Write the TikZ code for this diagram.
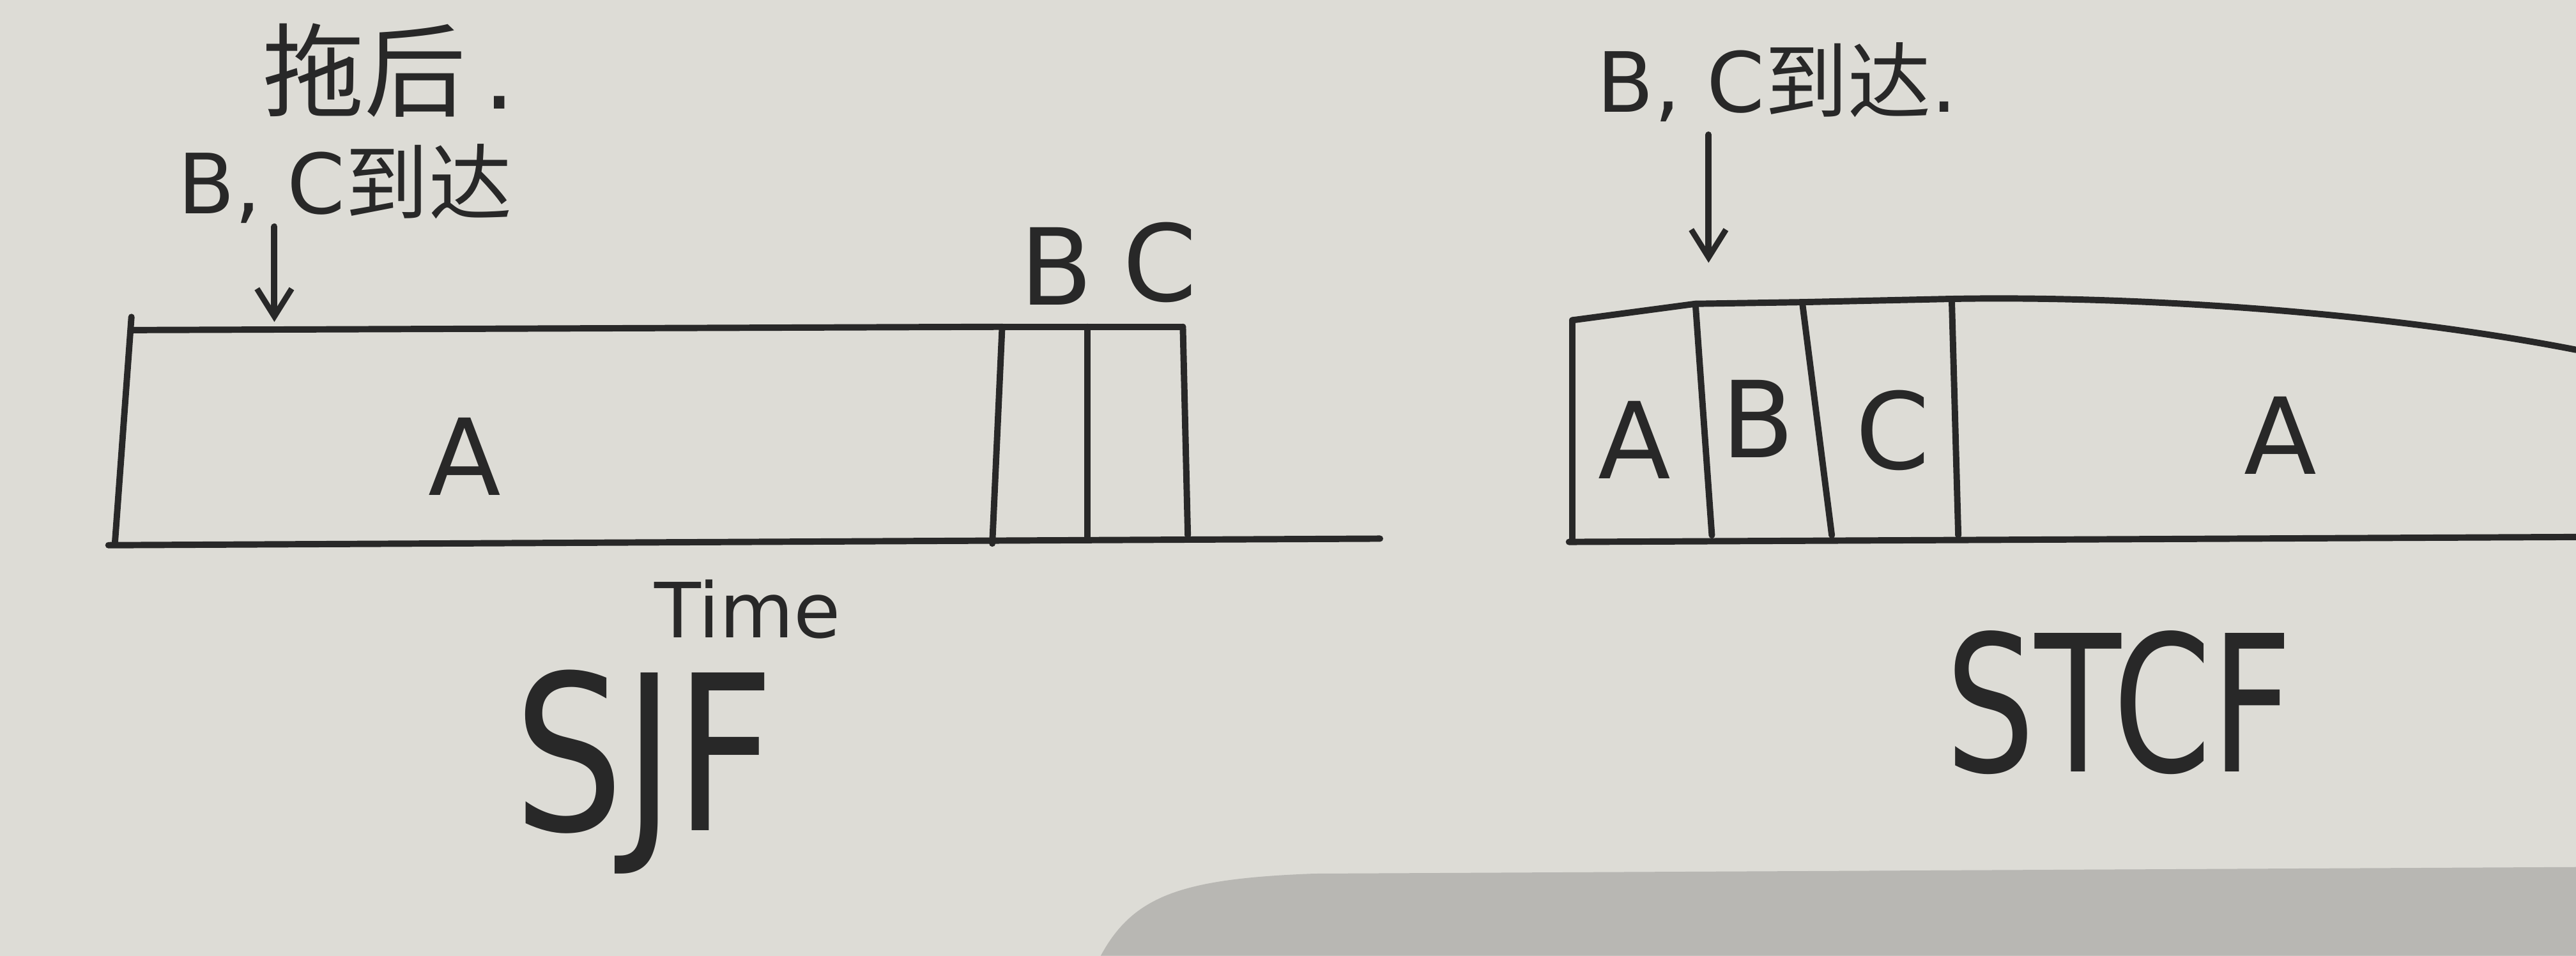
\documentclass[tikz,border=0pt]{standalone}
\usepackage{fontspec}
\usepackage{graphicx}
\setmainfont{DejaVu Sans}
\newfontfamily\cjk{Noto Sans CJK SC}
\usetikzlibrary{arrows.meta}
\definecolor{paper}{RGB}{221,220,214}
\definecolor{shadow}{RGB}{184,183,179}
\definecolor{ink}{RGB}{40,40,40}
\tikzset{
  pen/.style={draw=ink, line width=5.5pt, line cap=round, line join=round},
  arrive/.style={pen, -{Straight Barb[length=24pt,width=30pt,line width=5pt]}},
  lbl/.style={text=ink, inner sep=0pt, font=\fontsize{92}{92}\selectfont},
  note/.style={text=ink, inner sep=0pt, font=\fontsize{72}{72}\selectfont},
  title/.style={text=ink, inner sep=0pt, font=\fontsize{150}{150}\selectfont}
}
\begin{document}
\begin{tikzpicture}[x=0.05cm, y=-0.05cm]
% background
\fill[paper] (0,0) rectangle (1568,582);
\fill[shadow] (670,582) .. controls (690,545) and (720,535) .. (800,532) -- (1568,528) -- (1568,582) -- cycle;
\useasboundingbox (0,0) rectangle (1568,582);

% ---------------- SJF ----------------
\coordinate (LTl) at (80,201);
\coordinate (LTr) at (610,199);
\coordinate (LBl) at (66,332);
\coordinate (LBr) at (840,328);
\coordinate (LB1t) at (610,199);
\coordinate (LB1b) at (604,331);
\coordinate (LB2t) at (662,199);
\coordinate (LB2b) at (662,329);
\coordinate (LC2t) at (720,199);
\coordinate (LC2b) at (723,326);
\coordinate (LLt) at (80,193);
\coordinate (LLb) at (70,330);

\draw[pen] (LTl) -- (LTr);
\draw[pen] (LBl) -- (LBr);
\draw[pen] (LLt) -- (LLb);
\draw[pen] (LB1t) -- (LB1b);
\draw[pen] (LB1t) -- (LB2t) -- (LC2t);
\draw[pen] (LB2t) -- (LB2b);
\draw[pen] (LC2t) -- (LC2b);

\node[lbl] (LA) at (283,278) {A};
\node[lbl] (LB) at (643,162) {B};
\node[lbl] (LC) at (706,160) {C};

\coordinate (LArT) at (167,138);
\coordinate (LArB) at (167,196);
\draw[arrive] (LArT) -- (LArB);
\node[note, anchor=west] (Lnote) at (108,112) {B, C{\cjk 到达}};
\node[note, anchor=west, font=\fontsize{88}{88}\selectfont] (Lpre) at (160,43) {{\cjk 拖后}\,.};

\node[lbl, font=\fontsize{66}{66}\selectfont] (time) at (455,371) {Time};
\node[title] (sjf) at (392,470) {\scalebox{1}[1.25]{SJF}};

% ---------------- STCF ----------------
\coordinate (RT0) at (957,195);
\coordinate (RT1) at (1032,185);
\coordinate (RT2) at (1097,184);
\coordinate (RT3) at (1188,182);
\coordinate (RT4) at (1568,213);
\coordinate (RB0) at (955,330);
\coordinate (RB4) at (1568,327);
\coordinate (RD0) at (957,328);
\coordinate (RD1) at (1042,326);
\coordinate (RD2) at (1115,326);
\coordinate (RD3) at (1192,326);

\draw[pen] (RT0) -- (RT1) -- (RT2) -- (RT3) .. controls (1300,180) and (1450,190) .. (RT4);
\draw[pen] (RB0) -- (RB4);
\draw[pen] (RT0) -- (RD0);
\draw[pen] (RT1) -- (RD1);
\draw[pen] (RT2) -- (RD2);
\draw[pen] (RT3) -- (RD3);

\node[lbl] (RA1) at (995,268) {A};
\node[lbl] (RB) at (1070,255) {B};
\node[lbl] (RC) at (1152,262) {C};
\node[lbl] (RA2) at (1388,265) {A};

\coordinate (RArT) at (1040,82);
\coordinate (RArB) at (1040,160);
\draw[arrive] (RArT) -- (RArB);
\node[note, anchor=west] (Rnote) at (972,50) {B, C{\cjk 到达}.};

\node[title, font=\fontsize{122}{122}\selectfont] (stcf) at (1290,428) {\scalebox{1}[1.35]{STCF}};
\end{tikzpicture}
\end{document}
